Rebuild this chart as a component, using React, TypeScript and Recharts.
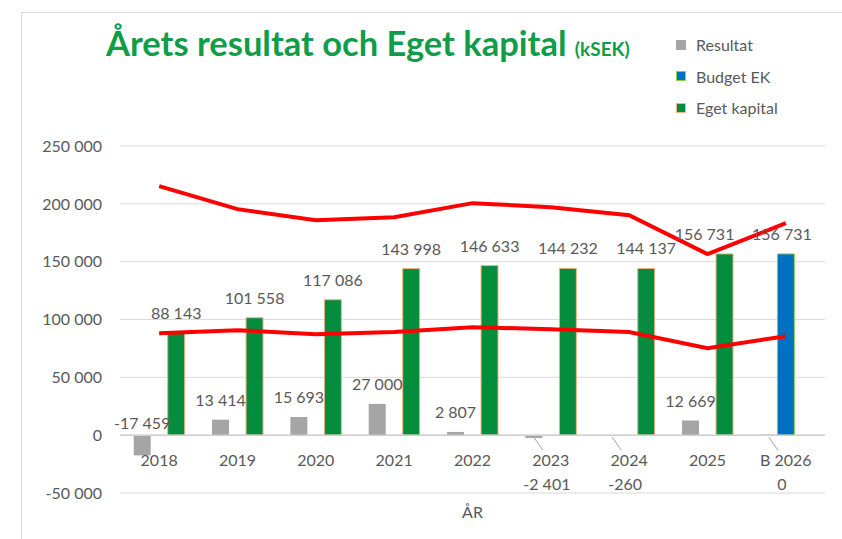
import React from 'react';
import {
  ComposedChart,
  Bar,
  Line,
  XAxis,
  YAxis,
  CartesianGrid,
  ReferenceLine,
  LabelList,
} from 'recharts';

const categories = ['2018', '2019', '2020', '2021', '2022', '2023', '2024', '2025', 'B 2026'];
const resultat = [-17459, 13414, 15693, 27000, 2807, -2401, -260, 12669, 0];
const budgetEk = [null, null, null, null, null, null, null, null, 156731];
const egetKapital = [88143, 101558, 117086, 143998, 146633, 144232, 144137, 156731, null];
const upperLine = [215300, 195400, 185900, 188500, 200600, 197100, 190200, 156500, 183300];
const lowerLine = [88200, 90800, 87300, 89100, 93400, 91600, 89100, 75200, 85600];
const yTicks = [-50000, 0, 50000, 100000, 150000, 200000, 250000];

const data = categories.map((cat, i) => ({
  cat,
  resultat: resultat[i],
  budget: budgetEk[i],
  eget: egetKapital[i],
  upper: upperLine[i],
  lower: lowerLine[i],
}));

const TEXT = '#595959';
const FONT = 'Lato, "Open Sans", sans-serif';

const fmt = (v: number) => {
  const s = Math.abs(v).toString().replace(/\B(?=(\d{3})+(?!\d))/g, ' ');
  return (v < 0 ? '-' : '') + s;
};

const ResultatLabel = (props: any) => {
  const { x, y, width, height, value } = props;
  if (value == null) return null;
  const cx = x + width / 2;
  const top = Math.min(y, y + height);
  // small / zero values get their label below the axis with a leader line
  if (value > 0 || value < -5000) {
    const ty = value > 0 ? top - 14 : top - 6;
    return (
      <text x={cx} y={ty} textAnchor="middle" fill={TEXT} fontSize={16} fontFamily={FONT}>
        {fmt(value)}
      </text>
    );
  }
  const base = value === 0 ? top + 0.5 : top;
  return (
    <g>
      <line x1={cx} y1={base + 2} x2={cx + 9} y2={base + 15} stroke="#a6a6a6" strokeWidth={1} />
      <text x={cx + 13} y={base + 55} textAnchor="middle" fill={TEXT} fontSize={16} fontFamily={FONT}>
        {fmt(value)}
      </text>
    </g>
  );
};

const EgetLabel = (props: any) => {
  const { x, y, width, height, value, index } = props;
  if (value == null) return null;
  const top = Math.min(y, y + height);
  const dx = budgetEk[index + 1] != null ? -20 : 0;
  return (
    <text x={x + width / 2 + dx} y={top - 14} textAnchor="middle" fill={TEXT} fontSize={16} fontFamily={FONT}>
      {fmt(value)}
    </text>
  );
};

const BudgetLabel = (props: any) => {
  const { x, y, width, height, value } = props;
  if (value == null) return null;
  const top = Math.min(y, y + height);
  return (
    <text x={x + width / 2 - 4} y={top - 14} textAnchor="middle" fill={TEXT} fontSize={16} fontFamily={FONT}>
      {fmt(value)}
    </text>
  );
};

const CategoryTick = (props: any) => {
  const { x, y, payload } = props;
  return (
    <text x={x} y={y - 27} textAnchor="middle" fill={TEXT} fontSize={16} fontFamily={FONT}>
      {payload.value}
    </text>
  );
};

const legendItems = [
  { name: 'Resultat', fill: '#a5a5a5', border: '#a5a5a5' },
  { name: 'Budget EK', fill: '#0070c0', border: '#92d050' },
  { name: 'Eget kapital', fill: '#058c3c', border: '#f4b183' },
];

export default function App() {
  return (
    <div
      style={{
        position: 'absolute',
        left: 0,
        top: 0,
        width: 842,
        height: 539,
        background: '#fff',
        fontFamily: FONT,
        overflow: 'hidden',
      }}
    >
      <div
        style={{
          position: 'absolute',
          left: 21,
          top: 12,
          width: 830,
          height: 540,
          borderTop: '1px solid #d9d9d9',
          borderLeft: '1px solid #d9d9d9',
        }}
      />
      <div
        style={{
          position: 'absolute',
          left: 106,
          top: 23,
          color: '#0f9d48',
          fontWeight: 700,
          fontSize: 34.5,
          whiteSpace: 'nowrap',
          lineHeight: '40px',
        }}
      >
        Årets resultat och Eget kapital <span style={{ fontSize: 19 }}>(kSEK)</span>
      </div>
      <div style={{ position: 'absolute', left: 676, top: 29 }}>
        {legendItems.map((it) => (
          <div
            key={it.name}
            style={{ display: 'flex', alignItems: 'center', height: 31.5, color: TEXT, fontSize: 16 }}
          >
            <span
              style={{
                display: 'inline-block',
                width: 8,
                height: 8,
                background: it.fill,
                border: `1.5px solid ${it.border}`,
                marginRight: 10,
              }}
            />
            {it.name}
          </div>
        ))}
      </div>
      <div style={{ position: 'absolute', left: 0, top: 0 }}>
        <ComposedChart
          width={842}
          height={539}
          data={data}
          margin={{ top: 146, right: 17, bottom: 0, left: 20 }}
          barCategoryGap="17.5%"
          barGap={0}
        >
          <CartesianGrid vertical={false} stroke="#d9d9d9" />
          <XAxis
            dataKey="cat"
            axisLine={false}
            tickLine={false}
            tickSize={0}
            tickMargin={0}
            height={46}
            tick={<CategoryTick />}
            interval={0}
            label={{ value: 'ÅR', position: 'insideBottom', offset: 21, fill: TEXT, fontSize: 16, fontFamily: FONT }}
          />
          <YAxis
            width={100}
            domain={[-50000, 250000]}
            ticks={yTicks}
            axisLine={false}
            tickLine={false}
            tickSize={6}
            tickMargin={12}
            tickFormatter={fmt}
            tick={{ fill: TEXT, fontSize: 16, fontFamily: FONT }}
          />
          <ReferenceLine y={0} stroke="#d0d0d0" strokeWidth={1.5} />
          <Bar
            dataKey="resultat"
            fill="#a5a5a5"
            minPointSize={(v: any) => (v === 0 ? 0.5 : 0)}
            isAnimationActive={false}
          >
            <LabelList dataKey="resultat" content={<ResultatLabel />} />
          </Bar>
          <Bar dataKey="budget" fill="#0070c0" stroke="#92d050" strokeWidth={1} isAnimationActive={false}>
            <LabelList dataKey="budget" content={<BudgetLabel />} />
          </Bar>
          <Bar dataKey="eget" fill="#058c3c" stroke="#f4b183" strokeWidth={1} isAnimationActive={false}>
            <LabelList dataKey="eget" content={<EgetLabel />} />
          </Bar>
          <Line
            type="linear"
            dataKey="upper"
            stroke="#ff0000"
            strokeWidth={4}
            dot={false}
            isAnimationActive={false}
          />
          <Line
            type="linear"
            dataKey="lower"
            stroke="#ff0000"
            strokeWidth={4}
            dot={false}
            isAnimationActive={false}
          />
        </ComposedChart>
      </div>
    </div>
  );
}
